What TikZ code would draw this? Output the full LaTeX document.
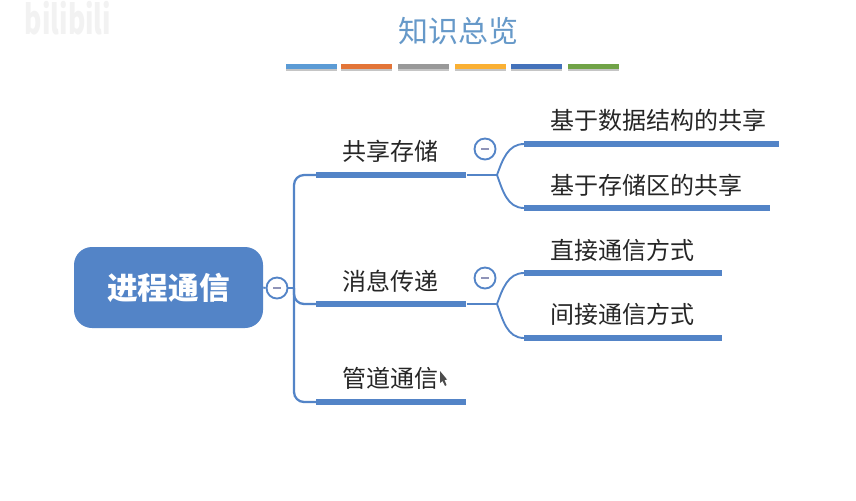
\documentclass[tikz,border=0pt]{standalone}
\usepackage{fontspec}
\setmainfont{Noto Sans CJK SC}
\usetikzlibrary{shadows}
\newlength{\du}
\setlength{\du}{0.75pt}
\definecolor{mapblue}{rgb}{0.325, 0.518, 0.780}
\definecolor{titleblue}{rgb}{0.400, 0.600, 0.790}
\definecolor{minusgrey}{rgb}{0.560, 0.580, 0.720}
\tikzset{
  rootbox/.style={fill=mapblue,draw=none,rounded corners=18\du,minimum width=189\du,minimum height=81\du,inner sep=0pt,text=white,font=\fontsize{23}{25}\selectfont\bfseries},
  bar/.style={fill=mapblue,draw=none,anchor=west,minimum height=6\du,inner sep=0pt},
  stripe/.style={draw=none,anchor=west,minimum width=51\du,minimum height=5\du,inner sep=0pt,drop shadow={shadow xshift=0pt,shadow yshift=-1.5pt,opacity=0.45}},
  label/.style={anchor=west,inner sep=0pt,text=black!85,font=\fontsize{18}{20}\selectfont},
  branch/.style={draw=mapblue,line width=1.7pt,rounded corners=10\du},
  twig/.style={draw=mapblue,line width=1.4pt},
  collapse/.style={circle,draw=mapblue,line width=1.4pt,fill=white,minimum size=21\du,inner sep=0pt,
    path picture={\draw[minusgrey,line width=1.2pt] ([xshift=-4\du]path picture bounding box.center)--([xshift=4\du]path picture bounding box.center);}},
}
\begin{document}
\begin{tikzpicture}[x=\du,y=-\du]
\useasboundingbox (0,0) rectangle (856,500);
\fill[white] (0,0) rectangle (856,500);
% watermark
\node[inner sep=0pt,text=black!5,xscale=0.66,transform shape,font=\fontsize{30}{32}\selectfont\bfseries] (mark) at (68,18) {bilibili};
% title
\node[inner sep=0pt,text=titleblue,font=\fontsize{22.5}{25}\selectfont] (title) at (458,31) {知识总览};
\definecolor{stripea}{rgb}{0.357, 0.608, 0.835}
\definecolor{stripeb}{rgb}{0.890, 0.460, 0.220}
\definecolor{stripec}{rgb}{0.600, 0.600, 0.600}
\definecolor{striped}{rgb}{0.980, 0.690, 0.200}
\definecolor{stripee}{rgb}{0.267, 0.447, 0.730}
\definecolor{stripef}{rgb}{0.439, 0.640, 0.278}
\node[stripe,fill=stripea] (s1) at (286,66) {};
\node[stripe,fill=stripeb] (s2) at (341,66) {};
\node[stripe,fill=stripec] (s3) at (398,66) {};
\node[stripe,fill=striped] (s4) at (455,66) {};
\node[stripe,fill=stripee] (s5) at (511,66) {};
\node[stripe,fill=stripef] (s6) at (568,66) {};
% root
\node[rootbox] (root) at (168.5,287.5) {进程通信};
\node[collapse] (btnRoot) at (277,288) {};
\coordinate (trunk) at (294,288);
% first level
\node[bar,minimum width=150\du] (barShare) at (316,175) {};
\node[bar,minimum width=150\du] (barMsg) at (316,304) {};
\node[bar,minimum width=150\du] (barPipe) at (316,402) {};
\node[label] (txtShare) at (342.5,151) {共享存储};
\node[label] (txtMsg) at (342.5,281) {消息传递};
\node[label] (txtPipe) at (342.5,378) {管道通信};
\node[collapse] (btnShare) at (485,149) {};
\node[collapse] (btnMsg) at (485,278) {};
% second level
\node[bar,minimum width=255\du] (barData) at (524,144) {};
\node[bar,minimum width=246\du] (barArea) at (524,208) {};
\node[bar,minimum width=198\du] (barDirect) at (524,273) {};
\node[bar,minimum width=198\du] (barIndirect) at (524,338) {};
\node[label] (txtData) at (550,120) {基于数据结构的共享};
\node[label] (txtArea) at (550,185) {基于存储区的共享};
\node[label] (txtDirect) at (550,250) {直接通信方式};
\node[label] (txtIndirect) at (550,314) {间接通信方式};
\coordinate (forkShare) at (497,175);
\coordinate (forkMsg) at (497,304);
% connectors
\draw[twig] (root.east) -- (btnRoot.west);
\draw[twig] (btnRoot.east) -- (trunk);
\draw[branch] (trunk) |- (barShare.west);
\draw[branch] (trunk) |- (barMsg.west);
\draw[branch] (trunk) |- (barPipe.west);
\draw[twig] (barShare.east) -- (forkShare);
\draw[twig] (forkShare) to[out=70,in=180] (barData.west);
\draw[twig] (forkShare) to[out=-70,in=180] (barArea.west);
\draw[twig] (barMsg.east) -- (forkMsg);
\draw[twig] (forkMsg) to[out=70,in=180] (barDirect.west);
\draw[twig] (forkMsg) to[out=-70,in=180] (barIndirect.west);
% cursor
\fill[black!70] (440,371)--(440,383)--(442.5,381)--(445,386)--(446.5,385)--(444.5,380)--(447,379.5)--cycle;
\end{tikzpicture}
\end{document}
